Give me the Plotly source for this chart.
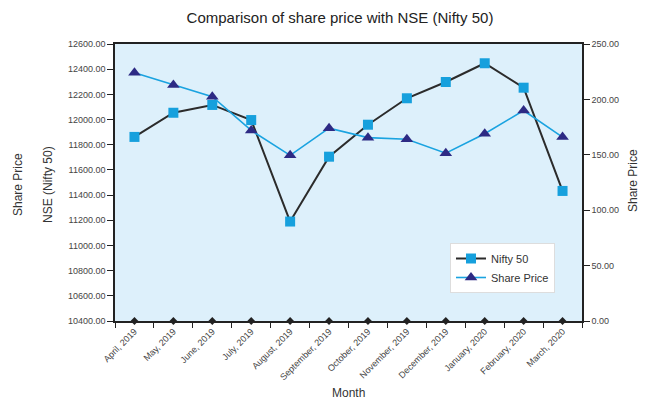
import plotly.graph_objects as go

months = ["April, 2019", "May, 2019", "June, 2019", "July, 2019", "August, 2019",
          "September, 2019", "October, 2019", "November, 2019", "December, 2019",
          "January, 2020", "February, 2020", "March, 2020"]
nifty = [11862, 12054, 12116, 11996, 11190, 11705, 11959, 12169, 12298, 12447, 12253, 11433]
share_price = [224, 213, 202.5, 172, 149.5, 174, 165.5, 164, 151.5, 169, 190, 166]

left_ticks = [10400 + 200 * i for i in range(12)]
right_ticks = [0, 50, 100, 150, 200, 250]

# page body has an 8px margin; plot area target: x 115..582, y 44..321
OFF = 8
PL, PR, PT, PB = 115, 582, 44, 321
PW, PH = PR - PL, PB - PT


def px(x):
    return (x - PL) / PW


def py(y):
    return (PB - y) / PH


fig = go.Figure()

fig.add_trace(go.Scatter(
    x=months, y=nifty, name="Nifty 50", mode="lines+markers",
    line=dict(color="#2b2b2b", width=2),
    marker=dict(symbol="square", size=10, color="#16a0dd"),
    yaxis="y"))

fig.add_trace(go.Scatter(
    x=months, y=share_price, name="Share Price", mode="lines+markers",
    line=dict(color="#1aa3e0", width=1.6),
    marker=dict(symbol="triangle-up", size=11, color="#2d2a84"),
    yaxis="y2"))

# diamond markers on the category axis
fig.add_trace(go.Scatter(
    x=months, y=[left_ticks[0]] * len(months), mode="markers",
    marker=dict(symbol="diamond", size=6, color="#222222"),
    showlegend=False, hoverinfo="skip", cliponaxis=False, yaxis="y"))

W, H = 646 - OFF, 400 - OFF
fig.update_layout(
    width=W, height=H,
    margin=dict(l=PL - OFF, r=W + OFF - PR, t=PT - OFF, b=H + OFF - PB),
    paper_bgcolor="white",
    plot_bgcolor="#ddf0fb",
    font=dict(family="Liberation Sans, Arial, sans-serif", color="#444444"),
    title=dict(text="Comparison of share price with NSE (Nifty 50)",
               x=(340 - OFF) / W, xanchor="center",
               y=1 - (18 - OFF) / H, yanchor="middle",
               font=dict(size=15, color="#222222")),
    xaxis=dict(
        type="category", range=[-0.5, 11.5],
        showline=True, linecolor="#222222", linewidth=1.5, mirror=True,
        ticks="outside", tickson="boundaries", ticklen=5, tickcolor="#222222",
        tickangle=-45, tickfont=dict(size=9, color="#444444"),
        showgrid=False, zeroline=False),
    yaxis=dict(
        range=[10400, 12600], tickvals=left_ticks,
        ticktext=[f"{v:.2f}" for v in left_ticks],
        showline=True, linecolor="#222222", linewidth=1.5,
        ticks="outside", ticklen=6, tickcolor="#222222",
        tickfont=dict(size=9, color="#444444"),
        showgrid=False, zeroline=False),
    yaxis2=dict(
        range=[0, 250], tickvals=right_ticks,
        ticktext=[f"{v:.2f}" for v in right_ticks],
        overlaying="y", side="right",
        showline=True, linecolor="#222222", linewidth=1.5,
        ticks="outside", ticklen=6, tickcolor="#222222",
        tickfont=dict(size=9, color="#444444"),
        showgrid=False, zeroline=False),
    legend=dict(
        x=px(450), y=py(243), xanchor="left", yanchor="top",
        bgcolor="white", bordercolor="#dddddd", borderwidth=1,
        font=dict(size=11, color="#333333"),
        itemwidth=30, tracegroupgap=4),
    showlegend=True,
    annotations=[
        dict(text="Share Price", xref="paper", yref="paper",
             x=px(18), y=py(185), textangle=-90,
             showarrow=False, font=dict(size=12, color="#333333"),
             xanchor="center", yanchor="middle"),
        dict(text="NSE (Nifty 50)", xref="paper", yref="paper",
             x=px(48), y=py(185), textangle=-90,
             showarrow=False, font=dict(size=12, color="#333333"),
             xanchor="center", yanchor="middle"),
        dict(text="Share Price", xref="paper", yref="paper",
             x=px(633), y=py(181), textangle=-90,
             showarrow=False, font=dict(size=12, color="#333333"),
             xanchor="center", yanchor="middle"),
        dict(text="Month", xref="paper", yref="paper",
             x=px(348), y=py(393), textangle=0,
             showarrow=False, font=dict(size=12, color="#333333"),
             xanchor="center", yanchor="middle"),
    ],
)

fig.write_html("out.html")
